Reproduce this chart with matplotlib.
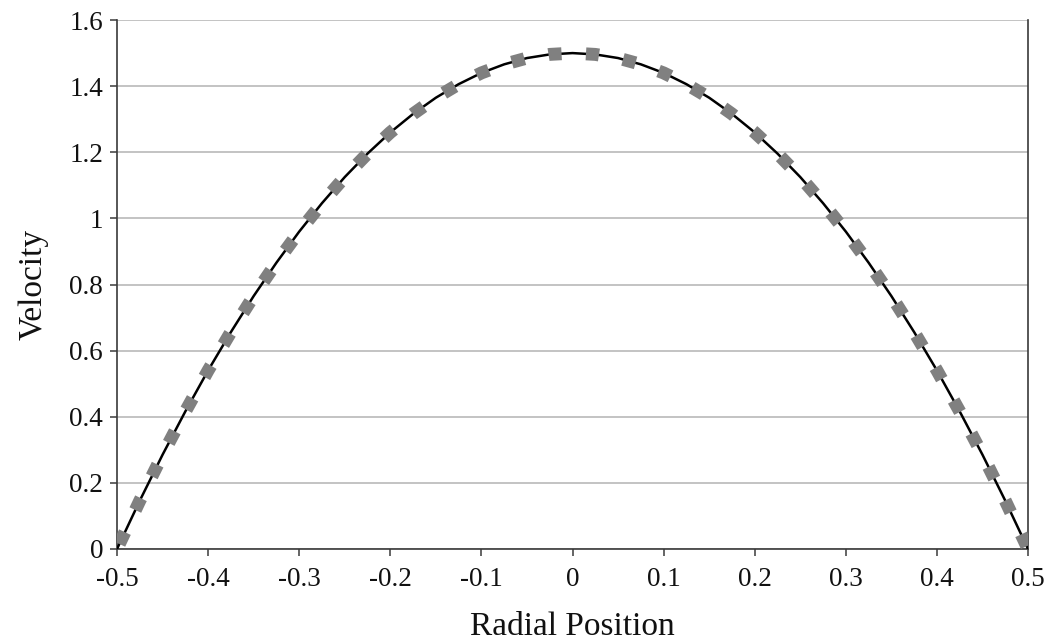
import numpy as np
import matplotlib
matplotlib.use('Agg')
import matplotlib.pyplot as plt

# radial position vs velocity
radial = [-0.5, -0.475, -0.45, -0.425, -0.4, -0.375, -0.35, -0.325, -0.3, -0.275,
          -0.25, -0.225, -0.2, -0.175, -0.15, -0.125, -0.1, -0.075, -0.05, -0.025,
          0.0, 0.025, 0.05, 0.075, 0.1, 0.125, 0.15, 0.175, 0.2, 0.225,
          0.25, 0.275, 0.3, 0.325, 0.35, 0.375, 0.4, 0.425, 0.45, 0.475, 0.5]
velocity = [0.0, 0.146, 0.285, 0.416, 0.54, 0.656, 0.765, 0.866, 0.96, 1.046,
            1.125, 1.196, 1.26, 1.316, 1.365, 1.406, 1.44, 1.466, 1.485, 1.496,
            1.5, 1.496, 1.485, 1.466, 1.44, 1.406, 1.365, 1.316, 1.26, 1.196,
            1.125, 1.046, 0.96, 0.866, 0.765, 0.656, 0.54, 0.416, 0.285, 0.146, 0.0]

x_ticks = [-0.5, -0.4, -0.3, -0.2, -0.1, 0, 0.1, 0.2, 0.3, 0.4, 0.5]
x_labels = ['-0.5', '-0.4', '-0.3', '-0.2', '-0.1', '0', '0.1', '0.2', '0.3', '0.4', '0.5']
y_ticks = [0, 0.2, 0.4, 0.6, 0.8, 1.0, 1.2, 1.4, 1.6]
y_labels = ['0', '0.2', '0.4', '0.6', '0.8', '1', '1.2', '1.4', '1.6']

plt.rcParams['font.family'] = ['Liberation Serif', 'DejaVu Serif']
plt.rcParams['lines.scale_dashes'] = False

fig = plt.figure(figsize=(10.53, 6.42), dpi=100)
ax = fig.add_axes([0.1111, 0.1449, 0.8652, 0.8239])

axis_col = '#3a3a3a'
ax.set_axisbelow(True)
ax.grid(axis='y', color='#b3b3b3', linewidth=1.1)
ax.grid(axis='x', visible=False)

ax.plot(radial, velocity, color='black', linewidth=1.8, zorder=3)
# gray square dots along the curve
ax.plot(radial, velocity, color='#808080', linewidth=9.3,
        linestyle=(23.0, (9.4, 17.6)), dash_capstyle='butt', zorder=4)

ax.set_xlim(-0.5, 0.5)
ax.set_ylim(0, 1.6)
ax.set_xticks(x_ticks)
ax.set_xticklabels(x_labels)
ax.set_yticks(y_ticks)
ax.set_yticklabels(y_labels)

for side in ['left', 'bottom', 'right']:
    ax.spines[side].set_color(axis_col)
    ax.spines[side].set_linewidth(1.2)
ax.spines['top'].set_visible(False)

ax.tick_params(axis='both', direction='out', length=5, width=1.1,
               color=axis_col, labelsize=19.5, labelcolor='#111111')
ax.tick_params(axis='x', pad=8)
ax.tick_params(axis='y', pad=5)

ax.set_xlabel('Radial Position', fontsize=24, color='#111111', labelpad=14)
ax.set_ylabel('Velocity', fontsize=24, color='#111111', labelpad=15)

fig.savefig('out.png', dpi=100)
